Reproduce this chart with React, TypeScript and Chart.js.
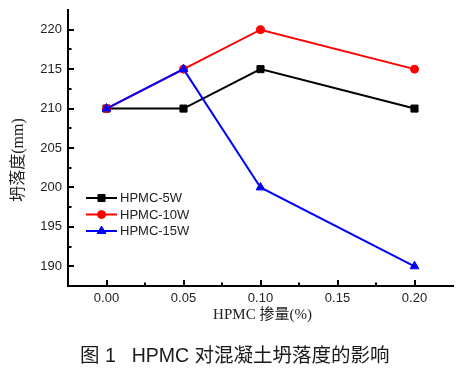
import React, { useEffect, useRef } from "react";
import { Chart, registerables } from "chart.js";

Chart.register(...registerables);

const xValues = [0.0, 0.05, 0.1, 0.2];
const series5W = [210, 210, 215, 210];
const series10W = [210, 215, 220, 215];
const series15W = [210, 215, 200, 190];
const seriesNames = ["HPMC-5W", "HPMC-10W", "HPMC-15W"];
const seriesColors = ["#000000", "#ff0000", "#0000ff"];
const seriesMarkers = ["rect", "circle", "triangle"];
const markerSizes = [5, 4, 5];
const xTicks = [0.0, 0.05, 0.1, 0.15, 0.2];
const yTicks = [190, 195, 200, 205, 210, 215, 220];
const xTitle = "HPMC 掺量(%)";
const yTitle = "坍落度(mm)";
const captionLabel = "图 1";
const captionText = "HPMC 对混凝土坍落度的影响";

const W = 466;
const H = 376;

function drawMarker(ctx: CanvasRenderingContext2D, style: string, r: number, x: number, y: number) {
  ctx.beginPath();
  if (style === "rect") {
    const s = Math.SQRT1_2 * r;
    ctx.rect(x - s, y - s, 2 * s, 2 * s);
  } else if (style === "circle") {
    ctx.arc(x, y, r, 0, Math.PI * 2);
  } else {
    const a = (Math.PI / 2) * 3;
    ctx.moveTo(x + Math.cos(a) * r, y + Math.sin(a) * r);
    ctx.lineTo(x + Math.cos(a + (2 * Math.PI) / 3) * r, y + Math.sin(a + (2 * Math.PI) / 3) * r);
    ctx.lineTo(x + Math.cos(a + (4 * Math.PI) / 3) * r, y + Math.sin(a + (4 * Math.PI) / 3) * r);
    ctx.closePath();
  }
  ctx.fill();
  ctx.stroke();
}

export default function App() {
  const ref = useRef<HTMLCanvasElement | null>(null);

  useEffect(() => {
    if (!ref.current) return;
    const all = [series5W, series10W, series15W];
    const customPlugin = {
      id: "custom",
      afterDraw(chart: any) {
        const ctx = chart.ctx;
        const xs = chart.scales.x;
        const ys = chart.scales.y;
        const area = chart.chartArea;
        ctx.save();
        ctx.strokeStyle = "#000";
        ctx.lineWidth = 2;
        const xMinor: number[] = [];
        for (let i = 1; i < xTicks.length; i++) xMinor.push((xTicks[i] + xTicks[i - 1]) / 2);
        ctx.beginPath();
        xTicks.forEach((v) => {
          const px = Math.round(xs.getPixelForValue(v));
          ctx.moveTo(px, area.bottom);
          ctx.lineTo(px, area.bottom - 6);
        });
        xMinor.forEach((v) => {
          const px = Math.round(xs.getPixelForValue(v));
          ctx.moveTo(px, area.bottom);
          ctx.lineTo(px, area.bottom - 3.5);
        });
        yTicks.forEach((v) => {
          const py = Math.round(ys.getPixelForValue(v));
          ctx.moveTo(area.left, py);
          ctx.lineTo(area.left + 6, py);
        });
        const yMinor = yTicks.slice(0, -1).map((v, i) => (v + yTicks[i + 1]) / 2);
        yMinor.forEach((v) => {
          const py = Math.round(ys.getPixelForValue(v));
          ctx.moveTo(area.left, py);
          ctx.lineTo(area.left + 3.5, py);
        });
        ctx.stroke();

        ctx.fillStyle = "#222";
        ctx.font = "15px 'Liberation Serif', 'Noto Sans CJK SC', serif";
        ctx.textAlign = "center";
        ctx.textBaseline = "middle";
        ctx.fillText(xTitle, (area.left + area.right) / 2 + 2, 315);
        ctx.font = "16px 'Liberation Serif', 'Noto Sans CJK SC', serif";
        ctx.save();
        ctx.translate(19, 160);
        ctx.rotate(-Math.PI / 2);
        ctx.fillText(yTitle, 0, 0);
        ctx.restore();

        const rows = [198, 214.5, 231];
        ctx.font = "13px 'Liberation Sans', Arial, sans-serif";
        ctx.textAlign = "left";
        ctx.textBaseline = "middle";
        seriesNames.forEach((name, i) => {
          const y = rows[i];
          ctx.strokeStyle = seriesColors[i];
          ctx.lineWidth = 2;
          ctx.beginPath();
          ctx.moveTo(86, y);
          ctx.lineTo(117, y);
          ctx.stroke();
          ctx.fillStyle = seriesColors[i];
          ctx.lineWidth = 1;
          drawMarker(ctx, seriesMarkers[i], markerSizes[i], 101.5, y);
          ctx.fillStyle = "#222";
          ctx.fillText(name, 120, y + 0.5);
        });
        ctx.restore();
      },
    };

    const chart = new Chart(ref.current, {
      type: "line",
      data: {
        datasets: all.map((vals, i) => ({
          label: seriesNames[i],
          data: vals.map((v, j) => ({ x: xValues[j], y: v })),
          borderColor: seriesColors[i],
          backgroundColor: seriesColors[i],
          borderWidth: 2,
          pointStyle: seriesMarkers[i] as any,
          pointRadius: markerSizes[i],
          pointBorderWidth: 1,
          tension: 0,
          order: 3 - i,
        })),
      },
      options: {
        animation: false,
        responsive: false,
        maintainAspectRatio: false,
        layout: { padding: { left: 0, right: 13, top: 10, bottom: 0 } },
        plugins: {
          legend: { display: false },
          tooltip: { enabled: false },
          title: { display: false },
        },
        scales: {
          x: {
            type: "linear",
            min: -0.025,
            max: 0.225,
            grid: { display: false, drawTicks: false },
            border: { display: true, color: "#000", width: 2 },
            afterBuildTicks: (s: any) => {
              s.ticks = xTicks.map((v) => ({ value: v }));
            },
            afterFit: (s: any) => {
              s.height = H - 286;
              s.paddingLeft = 0;
              s.paddingRight = 0;
            },
            ticks: {
              padding: 5,
              color: "#222",
              font: { family: "'Liberation Sans', Arial, sans-serif", size: 13 },
              maxRotation: 0,
              autoSkip: false,
              callback: (v: any) => Number(v).toFixed(2),
            },
          },
          y: {
            type: "linear",
            min: 187.5,
            max: 222.5,
            grid: { display: false, drawTicks: false },
            border: { display: true, color: "#000", width: 2 },
            afterBuildTicks: (s: any) => {
              s.ticks = yTicks.map((v) => ({ value: v }));
            },
            afterFit: (s: any) => {
              s.width = 68;
              s.paddingTop = 0;
              s.paddingBottom = 0;
            },
            ticks: {
              padding: 6,
              color: "#222",
              font: { family: "'Liberation Sans', Arial, sans-serif", size: 13 },
              autoSkip: false,
              callback: (v: any) => String(v),
            },
          },
        },
      },
      plugins: [customPlugin],
    });
    return () => chart.destroy();
  }, []);

  return (
    <div style={{ position: "fixed", left: 0, top: 0, width: W, height: H, background: "#fff" }}>
      <canvas ref={ref} width={W} height={H} style={{ position: "absolute", left: 0, top: 0, width: W, height: H }} />
      <div
        style={{
          position: "absolute",
          left: 80,
          top: 342,
          whiteSpace: "nowrap",
          fontFamily: "'Liberation Sans', 'Noto Sans CJK SC', sans-serif",
          fontSize: 19.5,
          fontWeight: 400,
          lineHeight: "26px",
          color: "#1a1a1a",
        }}
      >
        <span>{captionLabel}</span>
        <span style={{ marginLeft: 16 }}>{captionText}</span>
      </div>
    </div>
  );
}
